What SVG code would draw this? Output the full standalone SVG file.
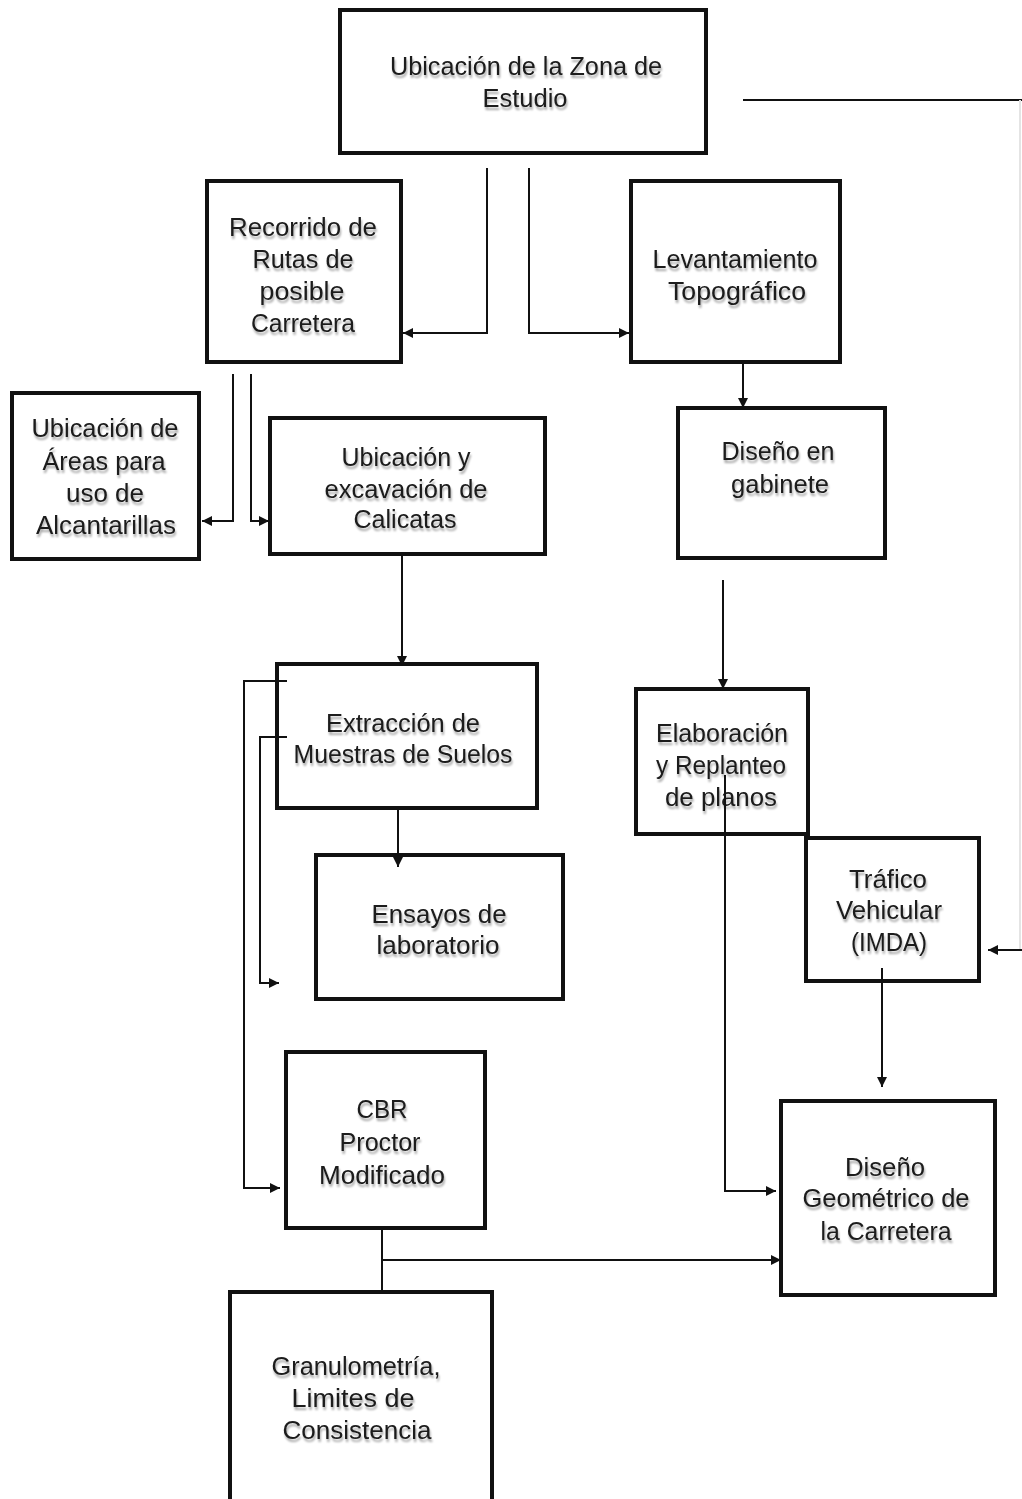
<svg xmlns="http://www.w3.org/2000/svg" width="1022" height="1499" viewBox="0 0 1022 1499">
<defs>
<marker id="ah" viewBox="0 0 10 10" refX="10" refY="5" markerWidth="10" markerHeight="10" markerUnits="userSpaceOnUse" orient="auto">
<path d="M0,0 L10,5 L0,10 z" fill="#111"/>
</marker>
<filter id="ts" x="-10%" y="-20%" width="120%" height="160%">
<feGaussianBlur in="SourceAlpha" stdDeviation="1.2"/>
<feOffset dx="1" dy="3" result="b"/>
<feComponentTransfer><feFuncA type="linear" slope="0.35"/></feComponentTransfer>
<feMerge><feMergeNode/><feMergeNode in="SourceGraphic"/></feMerge>
</filter>
</defs>
<style>
.box{fill:#fff;stroke:#111;stroke-width:4}
.t{font-family:"Liberation Sans",Arial,sans-serif;font-size:25px;fill:#1a1a1a;text-anchor:middle;filter:url(#ts)}
.c{fill:none;stroke:#111;stroke-width:2}
</style>
<rect width="1022" height="1499" fill="#fff"/>

<g id="n1">
<rect class="box" x="340" y="10" width="366" height="143"/>
<text class="t"><tspan x="526" y="75" textLength="272" lengthAdjust="spacingAndGlyphs">Ubicación de la Zona de</tspan><tspan x="525" y="107" textLength="85" lengthAdjust="spacingAndGlyphs">Estudio</tspan></text>
</g>

<g id="n2">
<rect class="box" x="207" y="181" width="194" height="181"/>
<text class="t"><tspan x="303" y="236" textLength="148" lengthAdjust="spacingAndGlyphs">Recorrido de</tspan><tspan x="303" y="268" textLength="101" lengthAdjust="spacingAndGlyphs">Rutas de</tspan><tspan x="302" y="300" textLength="85" lengthAdjust="spacingAndGlyphs">posible</tspan><tspan x="303" y="332" textLength="104" lengthAdjust="spacingAndGlyphs">Carretera</tspan></text>
</g>

<g id="n3">
<rect class="box" x="631" y="181" width="209" height="181"/>
<text class="t"><tspan x="735" y="268" textLength="165" lengthAdjust="spacingAndGlyphs">Levantamiento</tspan><tspan x="737" y="300" textLength="138" lengthAdjust="spacingAndGlyphs">Topográfico</tspan></text>
</g>

<g id="n4">
<rect class="box" x="12" y="393" width="187" height="166"/>
<text class="t"><tspan x="105" y="437" textLength="147" lengthAdjust="spacingAndGlyphs">Ubicación de</tspan><tspan x="104" y="470" textLength="123" lengthAdjust="spacingAndGlyphs">Áreas para</tspan><tspan x="105" y="502" textLength="78" lengthAdjust="spacingAndGlyphs">uso de</tspan><tspan x="106" y="534" textLength="140" lengthAdjust="spacingAndGlyphs">Alcantarillas</tspan></text>
</g>

<g id="n5">
<rect class="box" x="270" y="418" width="275" height="136"/>
<text class="t"><tspan x="406" y="466" textLength="129" lengthAdjust="spacingAndGlyphs">Ubicación y</tspan><tspan x="406" y="498" textLength="163" lengthAdjust="spacingAndGlyphs">excavación de</tspan><tspan x="405" y="528" textLength="103" lengthAdjust="spacingAndGlyphs">Calicatas</tspan></text>
</g>

<g id="n6">
<rect class="box" x="678" y="408" width="207" height="150"/>
<text class="t"><tspan x="778" y="460" textLength="113" lengthAdjust="spacingAndGlyphs">Diseño en</tspan><tspan x="780" y="493" textLength="98" lengthAdjust="spacingAndGlyphs">gabinete</tspan></text>
</g>

<g id="n7">
<rect class="box" x="277" y="664" width="260" height="144"/>
<text class="t"><tspan x="403" y="732" textLength="154" lengthAdjust="spacingAndGlyphs">Extracción de</tspan><tspan x="403" y="763" textLength="219" lengthAdjust="spacingAndGlyphs">Muestras de Suelos</tspan></text>
</g>

<g id="n8">
<rect class="box" x="636" y="689" width="172" height="145"/>
<text class="t"><tspan x="722" y="742" textLength="132" lengthAdjust="spacingAndGlyphs">Elaboración</tspan><tspan x="721" y="774" textLength="130" lengthAdjust="spacingAndGlyphs">y Replanteo</tspan><tspan x="721" y="806" textLength="112" lengthAdjust="spacingAndGlyphs">de planos</tspan></text>
</g>

<g id="n9">
<rect class="box" x="316" y="855" width="247" height="144"/>
<text class="t"><tspan x="439" y="923" textLength="135" lengthAdjust="spacingAndGlyphs">Ensayos de</tspan><tspan x="438" y="954" textLength="123" lengthAdjust="spacingAndGlyphs">laboratorio</tspan></text>
</g>

<g id="n10">
<rect class="box" x="806" y="838" width="173" height="143"/>
<text class="t"><tspan x="888" y="888" textLength="78" lengthAdjust="spacingAndGlyphs">Tráfico</tspan><tspan x="889" y="919" textLength="106" lengthAdjust="spacingAndGlyphs">Vehicular</tspan><tspan x="889" y="951" textLength="76" lengthAdjust="spacingAndGlyphs">(IMDA)</tspan></text>
</g>

<g id="n11">
<rect class="box" x="286" y="1052" width="199" height="176"/>
<text class="t"><tspan x="382" y="1118" textLength="51" lengthAdjust="spacingAndGlyphs">CBR</tspan><tspan x="380" y="1151" textLength="81" lengthAdjust="spacingAndGlyphs">Proctor</tspan><tspan x="382" y="1184" textLength="126" lengthAdjust="spacingAndGlyphs">Modificado</tspan></text>
</g>

<g id="n12">
<rect class="box" x="781" y="1101" width="214" height="194"/>
<text class="t"><tspan x="885" y="1176" textLength="80" lengthAdjust="spacingAndGlyphs">Diseño</tspan><tspan x="886" y="1207" textLength="167" lengthAdjust="spacingAndGlyphs">Geométrico de</tspan><tspan x="886" y="1240" textLength="131" lengthAdjust="spacingAndGlyphs">la Carretera</tspan></text>
</g>

<g id="n13">
<rect class="box" x="230" y="1292" width="262" height="215"/>
<text class="t"><tspan x="356" y="1375" textLength="169" lengthAdjust="spacingAndGlyphs">Granulometría,</tspan><tspan x="353" y="1407" textLength="123" lengthAdjust="spacingAndGlyphs">Limites de</tspan><tspan x="357" y="1439" textLength="149" lengthAdjust="spacingAndGlyphs">Consistencia</tspan></text>
</g>

<g id="connectors">
<path class="c" d="M487,168 V333 H403" marker-end="url(#ah)"/>
<path class="c" d="M529,168 V333 H629" marker-end="url(#ah)"/>
<path class="c" d="M743,100 H1022"/>
<path d="M1020,100 V950" fill="none" stroke="#e4e4e4" stroke-width="2"/>
<path class="c" d="M1022,950 H988" marker-end="url(#ah)"/>
<path class="c" d="M743,364 V408" marker-end="url(#ah)"/>
<path class="c" d="M233,374 V521 H202" marker-end="url(#ah)"/>
<path class="c" d="M251,374 V521 H269" marker-end="url(#ah)"/>
<path class="c" d="M402,556 V666" marker-end="url(#ah)"/>
<path class="c" d="M287,681 H244 V1188 H280" marker-end="url(#ah)"/>
<path class="c" d="M287,737 H260 V983 H279" marker-end="url(#ah)"/>
<path class="c" d="M398,810 V867" marker-end="url(#ah)"/>
<path class="c" d="M723,580 V689" marker-end="url(#ah)"/>
<path class="c" d="M725,775 V1191 H776" marker-end="url(#ah)"/>
<path class="c" d="M882,968 V1087" marker-end="url(#ah)"/>
<path class="c" d="M382,1230 V1292"/>
<path class="c" d="M382,1260 H781" marker-end="url(#ah)"/>
</g>
</svg>
